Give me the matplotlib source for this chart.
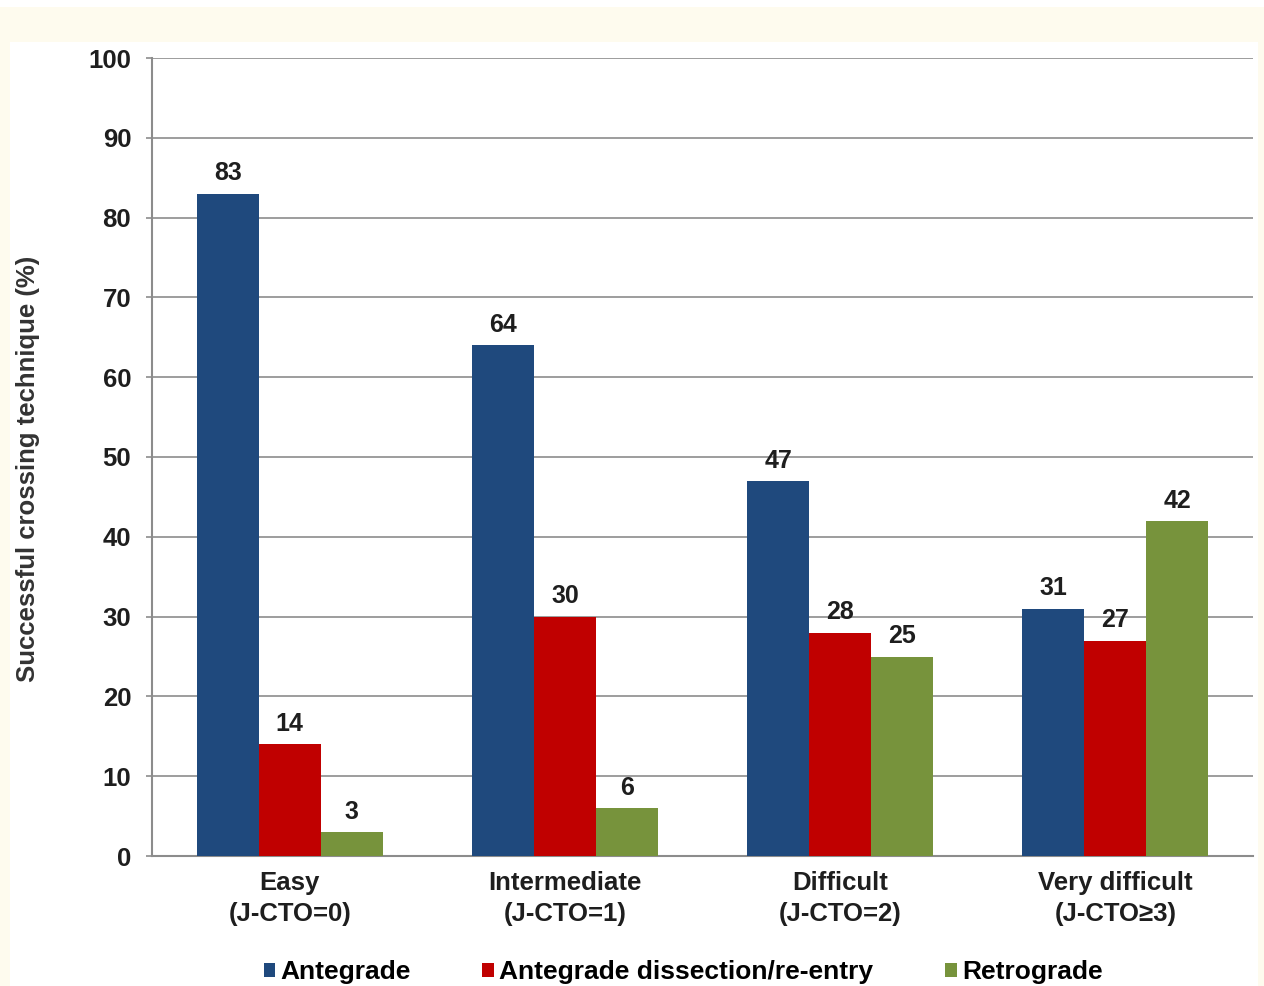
import numpy as np
import matplotlib.pyplot as plt
from matplotlib.patches import Rectangle

plt.rcParams['font.family'] = ['Liberation Sans', 'DejaVu Sans']
plt.rcParams['font.weight'] = 'bold'

categories = ['Easy\n(J-CTO=0)', 'Intermediate\n(J-CTO=1)',
              'Difficult\n(J-CTO=2)', 'Very difficult\n(J-CTO≥3)']
antegrade = [83, 64, 47, 31]
dissection = [14, 30, 28, 27]
retrograde = [3, 6, 25, 42]
series_names = ['Antegrade', 'Antegrade dissection/re-entry', 'Retrograde']
colors = ['#1F497D', '#C00000', '#77933C']

fig = plt.figure(figsize=(12.64, 9.86), dpi=100)
fig.patch.set_facecolor('white')
# cream frame behind the white panel
fig.patches.append(Rectangle((0, 0), 1, 979 / 986, transform=fig.transFigure,
                             facecolor='#FEFBEE', edgecolor='none', zorder=-2))
fig.patches.append(Rectangle((10 / 1264, 0), 1248 / 1264, 944 / 986,
                             transform=fig.transFigure,
                             facecolor='white', edgecolor='none', zorder=-1))

ax = fig.add_axes([152 / 1264, 130 / 986, 1101 / 1264, 798 / 986])
ax.set_facecolor('none')

x = np.arange(len(categories))
w = 0.225
for i, (vals, name, c) in enumerate(zip([antegrade, dissection, retrograde], series_names, colors)):
    bars = ax.bar(x + (i - 1) * w, vals, width=w, color=c, label=name, zorder=3)
    for b, v in zip(bars, vals):
        ax.annotate(str(v), (b.get_x() + b.get_width() / 2, v), xytext=(0, 6),
                    textcoords='offset points', ha='center', va='bottom',
                    fontsize=18, fontweight='bold', color='#1e1e1e')

ax.set_xlim(-0.5, len(categories) - 0.5)
ax.set_ylim(0, 100)
ax.set_yticks(range(0, 101, 10))
ax.yaxis.grid(True, color='#8c8c8c', linewidth=1.2, zorder=0)
ax.set_xticks(x)
ax.set_xticklabels(categories, fontsize=18.5, fontweight='bold', color='#1e1e1e',
                   linespacing=1.38)
ax.tick_params(axis='x', length=0, pad=10.5)
ax.tick_params(axis='y', length=4, width=1.2, color='#8c8c8c', labelsize=18.5,
               labelcolor='#1e1e1e', pad=11)
for lab in ax.get_yticklabels():
    lab.set_fontweight('bold')
for side in ['top', 'right']:
    ax.spines[side].set_visible(False)
for side in ['left', 'bottom']:
    ax.spines[side].set_color('#8c8c8c')
    ax.spines[side].set_linewidth(1.5)

fig.text(28 / 1264, 1 - 469 / 986, 'Successful crossing technique (%)', rotation=90,
         ha='center', va='center', fontsize=18.5, fontweight='bold', color='#333333')

handles, labels = ax.get_legend_handles_labels()
fig.legend(handles, labels, loc='center', bbox_to_anchor=(683 / 1264, 1 - 972 / 986),
           ncol=3, frameon=False, handlelength=0.45, handleheight=0.45, handletextpad=0.2,
           columnspacing=2.7, borderpad=0.2, prop={'size': 19, 'weight': 'bold'})

fig.savefig('out.png', dpi=100)
